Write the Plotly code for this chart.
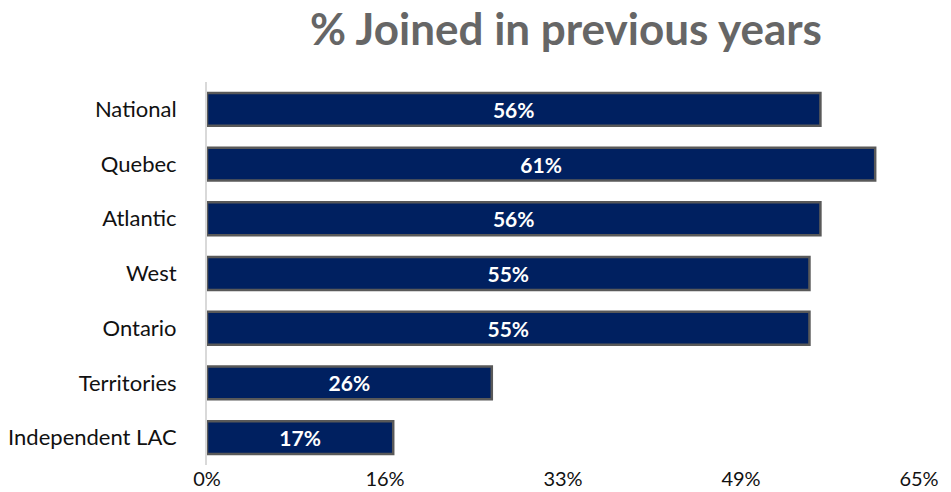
import plotly.graph_objects as go

# Share of respondents who joined in previous years, by region
regions = ["National", "Quebec", "Atlantic", "West", "Ontario", "Territories", "Independent LAC"]
joined_share = [0.56, 0.61, 0.56, 0.55, 0.55, 0.26, 0.17]
tick_values = [0, 0.1625, 0.325, 0.4875, 0.65]
tick_labels = ["0%", "16%", "33%", "49%", "65%"]

FONT = "Lato, 'Open Sans', sans-serif"

fig = go.Figure(
    go.Bar(
        y=regions,
        x=joined_share,
        orientation="h",
        width=0.6,
        marker=dict(color="#002060", line=dict(color="#595959", width=2.5)),
        text=[f"{v:.0%}" for v in joined_share],
        textposition="inside",
        insidetextanchor="middle",
        textfont=dict(family=FONT, size=21, color="white", weight="bold"),
        cliponaxis=False,
    )
)

fig.update_layout(
    width=951,
    height=492,
    margin=dict(l=207, r=32, t=82, b=27),
    paper_bgcolor="white",
    plot_bgcolor="white",
    showlegend=False,
    title=dict(
        text="<b>% Joined in previous years</b>",
        font=dict(family=FONT, size=44, color="#666666"),
        x=(207 + 925) / 2 / 951,
        xanchor="center",
        y=0.94,
        yanchor="middle",
    ),
)

fig.update_xaxes(
    range=[0, 0.65],
    tickvals=tick_values,
    ticktext=tick_labels,
    showgrid=False,
    zeroline=False,
    showline=False,
    ticks="",
    automargin=False,
    ticklabelstandoff=0,
    tickfont=dict(family=FONT, size=20, color="#111111"),
)

fig.update_yaxes(
    categoryorder="array",
    categoryarray=regions[::-1],
    showgrid=False,
    zeroline=False,
    showline=True,
    linecolor="#d9d9d9",
    linewidth=2,
    ticks="",
    automargin=False,
    ticklabelstandoff=24,
    tickfont=dict(family=FONT, size=22, color="#111111"),
)

fig.write_html("out.html")
